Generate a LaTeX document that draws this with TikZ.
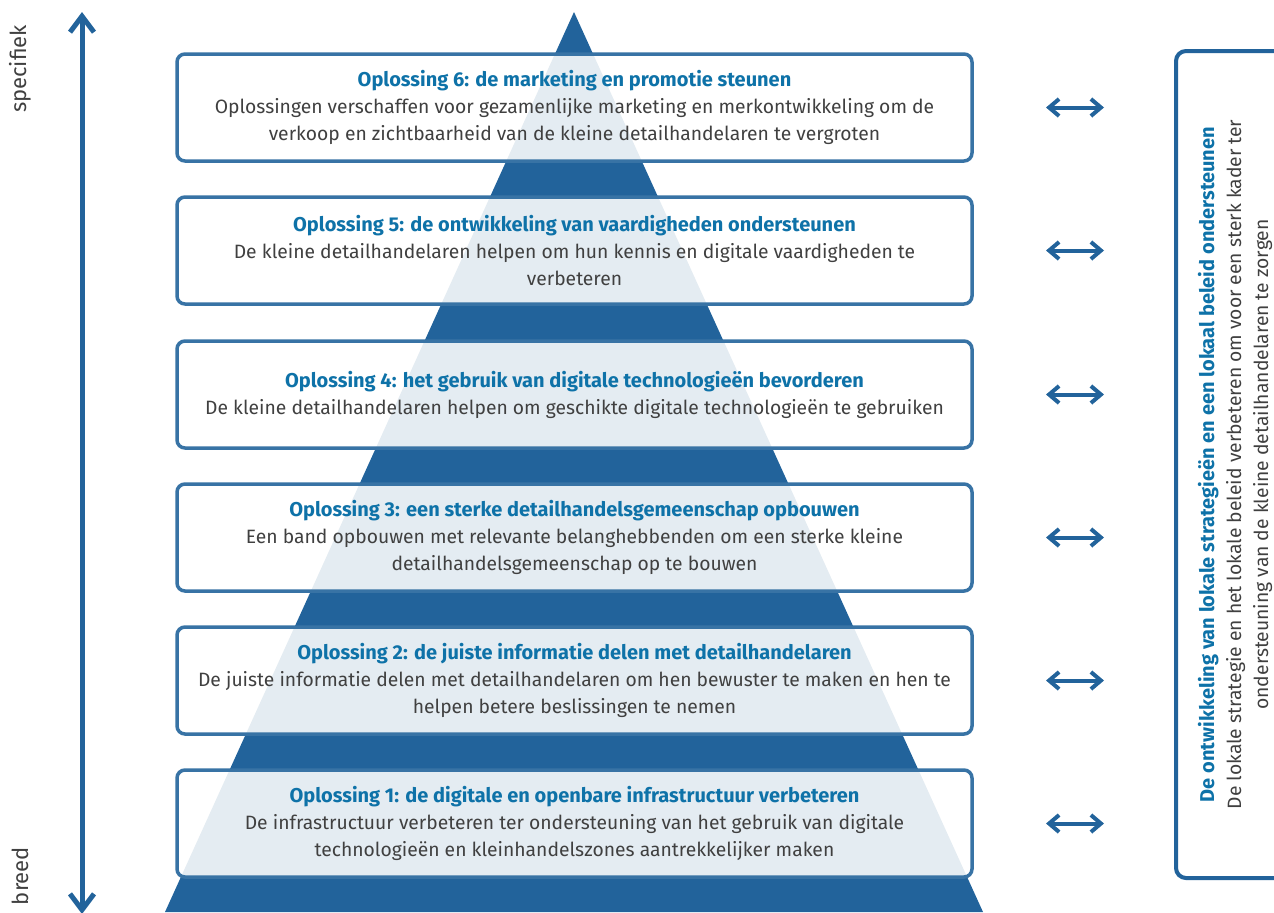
\documentclass[tikz,border=0pt]{standalone}
\usepackage{fontspec}
\setmainfont{Fira Sans}
\usetikzlibrary{arrows.meta}
\definecolor{pyrblue}{HTML}{22639B}
\definecolor{titleblue}{HTML}{0E72A8}
\definecolor{textgray}{HTML}{404040}
\newcommand{\kop}[1]{{\fontsize{10}{13.5}\selectfont\bfseries\color{titleblue}#1}}
\tikzset{
  oplbox/.style={draw=pyrblue!90, line width=1.75pt, rounded corners=4pt, fill=white, fill opacity=0.88, text opacity=1, minimum width=397.5pt, minimum height=53.5pt, align=center, text=textgray, font=\fontsize{9.65}{13.5}\selectfont},
  tweepijl/.style={{Straight Barb[length=5pt,width=8.5pt]}-{Straight Barb[length=5pt,width=8.5pt]}, line width=2pt, draw=pyrblue},
  aslabel/.style={rotate=90, text=textgray, font=\fontsize{11}{12}\selectfont}
}

\begin{document}
\begin{tikzpicture}[x=0.5pt, y=-0.5pt]
\clip (0,0) rectangle (1274,912);
\fill[pyrblue] (574,12) -- (165,912) -- (983,912) -- cycle;

\coordinate (boven) at (82,12);
\coordinate (onder) at (82,914);
\draw[{Straight Barb[length=8pt,width=12pt]}-{Straight Barb[length=8pt,width=12pt]}, line width=2.5pt, draw=pyrblue] (onder) -- (boven);
\node[aslabel](specifiek) at (20,69) {specifiek};
\node[aslabel](breed) at (20,876) {breed};

\node[oplbox](opl6) at (574.5,107.5) {\kop{Oplossing 6: de marketing en promotie steunen}\\Oplossingen verschaffen voor gezamenlijke marketing en merkontwikkeling om de\\verkoop en zichtbaarheid van de kleine detailhandelaren te vergroten};
\node[oplbox](opl5) at (574.5,250.5) {\kop{Oplossing 5: de ontwikkeling van vaardigheden ondersteunen}\\De kleine detailhandelaren helpen om hun kennis en digitale vaardigheden te\\verbeteren};
\node[oplbox](opl4) at (574.5,394.5) {\kop{Oplossing 4: het gebruik van digitale technologieën bevorderen}\\De kleine detailhandelaren helpen om geschikte digitale technologieën te gebruiken};
\node[oplbox](opl3) at (574.5,537.5) {\kop{Oplossing 3: een sterke detailhandelsgemeenschap opbouwen}\\Een band opbouwen met relevante belanghebbenden om een sterke kleine\\detailhandelsgemeenschap op te bouwen};
\node[oplbox](opl2) at (574.5,680.5) {\kop{Oplossing 2: de juiste informatie delen met detailhandelaren}\\De juiste informatie delen met detailhandelaren om hen bewuster te maken en hen te\\helpen betere beslissingen te nemen};
\node[oplbox](opl1) at (574.5,823.5) {\kop{Oplossing 1: de digitale en openbare infrastructuur verbeteren}\\De infrastructuur verbeteren ter ondersteuning van het gebruik van digitale\\technologieën en kleinhandelszones aantrekkelijker maken};

\node[draw=pyrblue, line width=2pt, rounded corners=5pt, rotate=90, minimum width=413.5pt, minimum height=59pt, align=center, text=textgray, font=\fontsize{9.65}{13.5}\selectfont](kader) at (1235,464.5) {\kop{De ontwikkeling van lokale strategieën en een lokaal beleid ondersteunen}\\De lokale strategie en het lokale beleid verbeteren om voor een sterk kader ter\\ondersteuning van de kleine detailhandelaren te zorgen};

\coordinate (p6l) at (1046,107.5);  \coordinate (p6r) at (1104,107.5);
\coordinate (p5l) at (1046,250.5);  \coordinate (p5r) at (1104,250.5);
\coordinate (p4l) at (1046,394.5);  \coordinate (p4r) at (1104,394.5);
\coordinate (p3l) at (1046,537.5);  \coordinate (p3r) at (1104,537.5);
\coordinate (p2l) at (1046,680.5);  \coordinate (p2r) at (1104,680.5);
\coordinate (p1l) at (1046,823.5);  \coordinate (p1r) at (1104,823.5);
\draw[tweepijl] (p6l) -- (p6r);
\draw[tweepijl] (p5l) -- (p5r);
\draw[tweepijl] (p4l) -- (p4r);
\draw[tweepijl] (p3l) -- (p3r);
\draw[tweepijl] (p2l) -- (p2r);
\draw[tweepijl] (p1l) -- (p1r);
\end{tikzpicture}
\end{document}
